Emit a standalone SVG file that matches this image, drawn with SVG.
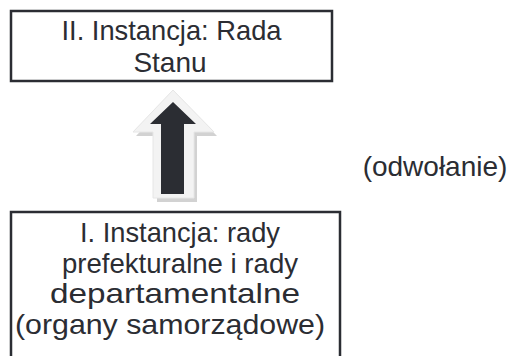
<svg xmlns="http://www.w3.org/2000/svg" width="510" height="356" viewBox="0 0 510 356">
  <style>
    .box { fill: #ffffff; stroke: #2b2d33; stroke-width: 2.5; }
    .t { font-family: "Liberation Sans", Arial, sans-serif; font-size: 28px; fill: #2b2d33; text-anchor: middle; }
  </style>
  <rect width="510" height="356" fill="#ffffff"/>
  <g id="node-rada-stanu">
    <rect class="box" x="11" y="11" width="321" height="70"/>
    <text class="t" x="171.5" y="40" textLength="220" lengthAdjust="spacingAndGlyphs">II. Instancja: Rada</text>
    <text class="t" x="170" y="72">Stanu</text>
  </g>
  <g id="node-rady">
    <rect class="box" x="11" y="212" width="329" height="150"/>
    <text class="t" x="180" y="242" textLength="200" lengthAdjust="spacingAndGlyphs">I. Instancja: rady</text>
    <text class="t" x="180" y="273" textLength="236" lengthAdjust="spacingAndGlyphs">prefekturalne i rady</text>
    <text class="t" x="175" y="303" textLength="250" lengthAdjust="spacingAndGlyphs">departamentalne</text>
    <text class="t" x="170" y="334" textLength="310" lengthAdjust="spacingAndGlyphs">(organy samorządowe)</text>
  </g>
  <g id="connectors">
    <polygon points="176,94 217,136 197,136 197,202 157,202 157,136 136,136" fill="#d2d2d2"/>
    <polygon points="173,90 214,132 194,132 194,198 153,198 153,132 133,132" fill="#f3f3f3" stroke="#e6e6e6" stroke-width="1"/>
    <polygon points="173,102 196,124 184,124 184,194 161,194 161,124 150,124" fill="#2b2d33"/>
  </g>
  <text class="t" x="435" y="176">(odwołanie)</text>
</svg>
